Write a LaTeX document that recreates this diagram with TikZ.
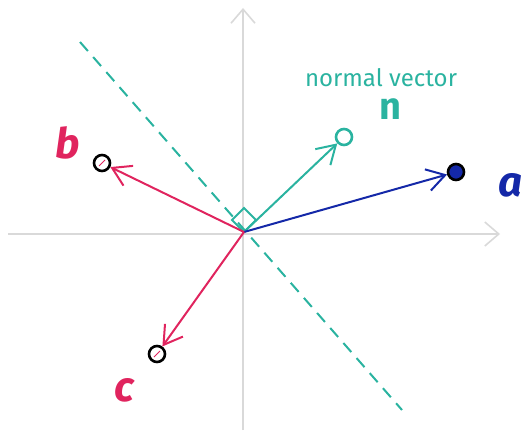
\documentclass[tikz,border=0pt]{standalone}
\usepackage{fontspec}
\setmainfont{Fira Sans}
\usetikzlibrary{arrows.meta}
\definecolor{tealc}{HTML}{2AB3A0}
\definecolor{bluec}{HTML}{1428A8}
\definecolor{redc}{HTML}{E0245E}
\definecolor{axisc}{HTML}{D9D9D9}
\tikzset{
  axisline/.style={draw=axisc, line width=0.8pt, -{Straight Barb[length=7pt,width=12pt]}},
  vec/.style={line width=1pt, -{Straight Barb[length=9pt,width=11pt]}},
  pt/.style={circle, inner sep=0pt, minimum size=8pt, line width=1.3pt},
  lbl/.style={font=\itshape\fontsize{21}{21}\selectfont}
}
\begin{document}
\begin{tikzpicture}[x=0.5pt,y=-0.5pt]
\useasboundingbox (0,0) rectangle (528,433);
% axes
\coordinate (xl) at (8,234);
\coordinate (xr) at (500,234);
\coordinate (yb) at (243,430);
\coordinate (yt) at (243,8);
\draw[axisline] (xl) -- (xr);
\draw[axisline] (yb) -- (yt);
\coordinate (O) at (244,232);
% dashed line
\coordinate (d1) at (80,42);
\coordinate (d2) at (402,410);
\draw[tealc, line width=1pt, dash pattern=on 6pt off 4pt] (d1) -- (d2);
% right angle marker
\draw[tealc, line width=1pt] (O) -- (232,220) -- (244,208) -- (256,220) -- cycle;
% points
\node[pt, draw=black, fill=bluec] (a) at (456,172) {};
\node[pt, draw=tealc] (n) at (344,137) {};
\node[pt, draw=black] (b) at (102,163) {};
\node[pt, draw=black] (c) at (157,354) {};
\draw[redc, line width=0.5pt] ([shift={(-3,3)}]b.center) -- ([shift={(3,-3)}]b.center);
\draw[redc, line width=0.5pt] ([shift={(-3,3)}]c.center) -- ([shift={(3,-3)}]c.center);
% vectors
\draw[vec, tealc] (O) -- (n);
\draw[vec, bluec] (O) -- (a);
\draw[vec, redc] (O) -- (b);
\draw[vec, redc] (O) -- (c);
% labels
\node[lbl, text=bluec, font=\bfseries\itshape\fontsize{21}{21}\selectfont] (la) at (510,185) {a};
\node[lbl, text=redc, font=\bfseries\itshape\fontsize{21}{21}\selectfont] (lb) at (68,143) {b};
\node[lbl, text=redc, font=\bfseries\itshape\fontsize{21}{21}\selectfont] (lc) at (124,390) {c};
\node[text=tealc, font=\fontsize{12}{12}\selectfont] (nv) at (381,78) {normal vector};
\node[text=tealc, font=\bfseries\fontsize{19}{19}\selectfont] (ln) at (390,109) {n};
\end{tikzpicture}
\end{document}
